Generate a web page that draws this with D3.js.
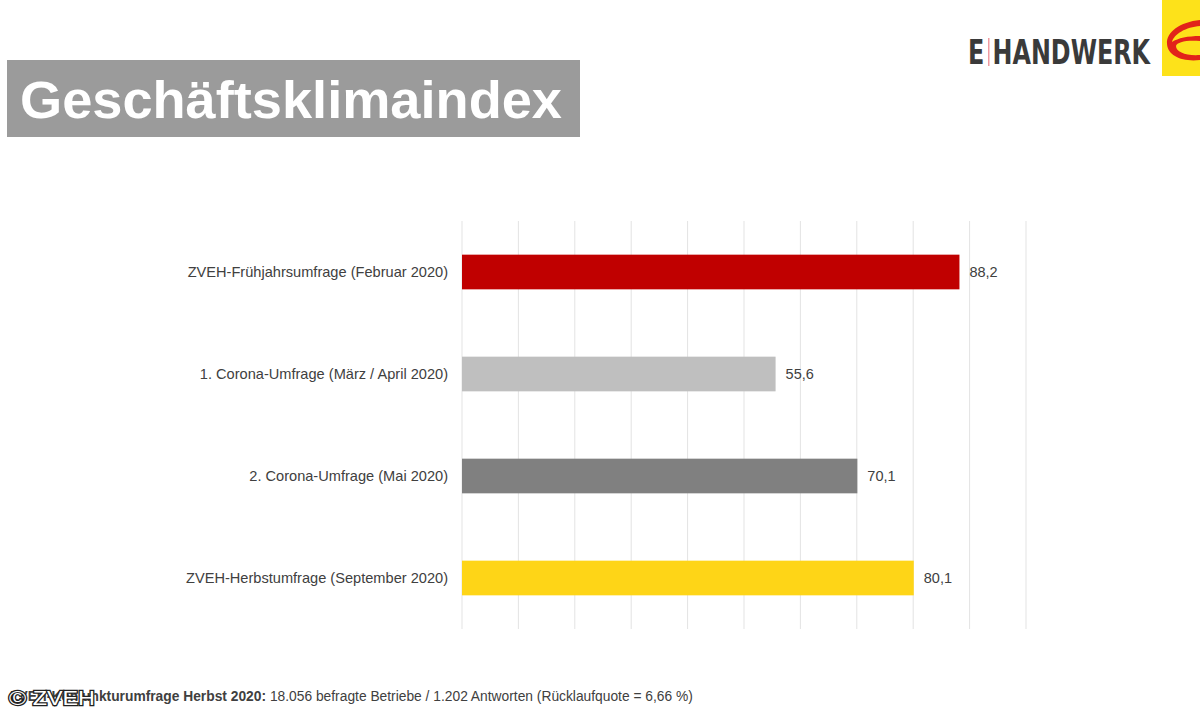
<!DOCTYPE html>
<html><head><meta charset="utf-8">
<script src="https://cdn.jsdelivr.net/npm/d3@7/dist/d3.min.js"></script>
<style>body{margin:0;background:#fff;}svg{display:block;font-family:"Liberation Sans",Arial,sans-serif;}</style>
</head><body>
<svg id="chart" width="1200" height="720"></svg>
<script>
const categories = [
  "ZVEH-Frühjahrsumfrage (Februar 2020)",
  "1. Corona-Umfrage (März / April 2020)",
  "2. Corona-Umfrage (Mai 2020)",
  "ZVEH-Herbstumfrage (September 2020)"
];
const values = [88.2, 55.6, 70.1, 80.1];
const valueLabels = ["88,2", "55,6", "70,1", "80,1"];
const barColors = ["#c00000", "#bfbfbf", "#808080", "#fed517"];
const gridTicks = [0,10,20,30,40,50,60,70,80,90,100];

const svg = d3.select("#chart");

// Title box
svg.append("rect").attr("x",7).attr("y",60).attr("width",573).attr("height",77).attr("fill","#9b9b9b");
svg.append("text").attr("x",20).attr("y",118).attr("fill","#fff").attr("font-weight","bold")
  .attr("font-size",51).attr("textLength",542).attr("lengthAdjust","spacingAndGlyphs").text("Geschäftsklimaindex");

// Logo
const logo = svg.append("g");
logo.append("text").attr("x",968).attr("y",64).attr("font-family","'Liberation Sans Narrow','DejaVu Sans Condensed',sans-serif")
  .attr("font-weight","bold").attr("font-size",33).attr("fill","#3a3a3a").attr("textLength",182).attr("lengthAdjust","spacingAndGlyphs")
  .text("E HANDWERK");
logo.append("rect").attr("x",988).attr("y",38).attr("width",1.5).attr("height",28).attr("fill","#f09aa0");
logo.append("rect").attr("x",1162).attr("y",0).attr("width",38).attr("height",76).attr("fill","#fde21a");
logo.append("path").attr("d","M1200,20 C1180,22 1166,32 1167,44 C1168,56 1182,62 1200,60 L1200,55 C1186,56 1176,52 1176,46 C1177,42 1186,40 1200,41 L1200,36 C1188,36 1178,38 1172,42 C1174,34 1186,27 1200,26 Z")
  .attr("fill","#e2231a");

// Chart
const x = d3.scaleLinear().domain([0,100]).range([462,1026]);
const y = d3.scaleBand().domain(categories).range([221,629]).paddingInner(0.66).paddingOuter(0.33);

svg.append("g").selectAll("line").data(gridTicks).join("line")
  .attr("x1",d=>x(d)).attr("x2",d=>x(d)).attr("y1",221).attr("y2",629)
  .attr("stroke","#e3e3e3").attr("stroke-width",1);

svg.append("g").selectAll("rect").data(values).join("rect")
  .attr("x",x(0)).attr("y",(d,i)=>y(categories[i])).attr("width",d=>x(d)-x(0))
  .attr("height",y.bandwidth()).attr("fill",(d,i)=>barColors[i]);

svg.append("g").selectAll("text").data(values).join("text")
  .attr("x",d=>x(d)+10).attr("y",(d,i)=>y(categories[i])+y.bandwidth()/2).attr("dy","0.35em")
  .attr("font-size",14.5).attr("fill","#404040").text((d,i)=>valueLabels[i]);

svg.append("g").selectAll("text").data(categories).join("text")
  .attr("x",448).attr("y",d=>y(d)+y.bandwidth()/2).attr("dy","0.35em").attr("text-anchor","end")
  .attr("font-size",14.6).attr("fill","#404040").text(d=>d);

// Footer
const ft = svg.append("text").attr("x",10).attr("y",701).attr("font-size",13.8).attr("fill","#404040");
ft.append("tspan").attr("font-weight","bold").text("ZVEH-Konjunkturumfrage Herbst 2020:");
ft.append("tspan").text(" 18.056 befragte Betriebe / 1.202 Antworten (Rücklaufquote = 6,66 %)");
svg.append("text").attr("x",9).attr("y",705).attr("font-size",21).attr("fill","#fff")
  .attr("stroke","#222").attr("stroke-width",2.5).attr("paint-order","stroke")
  .attr("textLength",86).attr("lengthAdjust","spacingAndGlyphs").text("© ZVEH");
</script>
</body></html>
